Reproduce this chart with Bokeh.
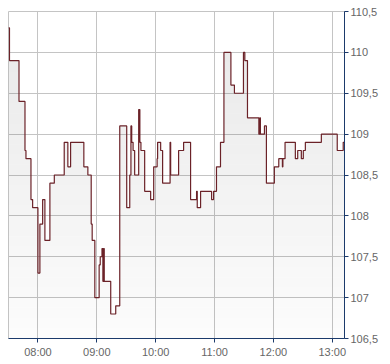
import numpy as np
from bokeh.plotting import figure
from bokeh.models import Range1d, FixedTicker, LinearAxis
from bokeh.embed import file_html
from bokeh.resources import INLINE

# minutes after midnight at which the price changes (step "after")
times = [450, 451, 460.7, 466.8, 467.8, 472.9, 474.6, 480, 482, 484.8, 487.1, 492.2,
         496.7, 506.8, 510.5, 513.3, 526.8, 530.9, 534.3, 535.3, 538, 542.4, 543.5,
         545.3, 546.2, 546.8, 547.6, 554.2, 559.3, 563.4, 570.5, 573.6, 574.8, 575.6,
         577, 578.6, 582.7, 583.9, 585, 588.8, 594.9, 598, 601.5, 602, 605.1, 607.1,
         614.7, 615.3, 623.4, 628.5, 635.6, 641.7, 642.4, 645.8, 657, 659, 662, 666.1,
         669.6, 676.7, 680.3, 689.5, 690.9, 693.6, 705.2, 706.2, 706.8, 710.9, 712.9,
         721, 725.5, 729.2, 729.7, 731.9, 742.4, 744.8, 748.5, 750.5, 752.6, 768.9,
         785.1, 791.2, 792.5]
prices = [110.3, 109.9, 109.4, 108.8, 108.7, 108.2, 108.1, 107.3, 107.9, 108.2, 107.7,
          108.4, 108.5, 108.9, 108.6, 108.9, 108.6, 108.5, 107.9, 107.7, 107.0, 107.4,
          107.5, 107.6, 107.2, 107.6, 107.2, 106.8, 106.9, 109.1, 108.1, 108.5, 109.1,
          108.9, 108.8, 108.5, 109.3, 108.9, 108.8, 108.3, 108.2, 108.6, 108.7, 108.9,
          108.8, 108.4, 108.9, 108.5, 108.8, 108.9, 108.2, 108.3, 108.1, 108.3, 108.2,
          108.3, 108.6, 108.9, 110.0, 109.6, 109.5, 110.0, 109.9, 109.2, 109.0, 109.2,
          109.0, 109.1, 108.4, 108.6, 108.7, 108.6, 108.7, 108.9, 108.7, 108.8, 108.7,
          108.8, 108.9, 109.0, 108.8, 108.9, 108.9]

x_ticks = [480, 540, 600, 660, 720, 780]
x_labels = ["08:00", "09:00", "10:00", "11:00", "12:00", "13:00"]
y_ticks = [106.5, 107.0, 107.5, 108.0, 108.5, 109.0, 109.5, 110.0, 110.5]
y_labels = ["106,5", "107", "107,5", "108", "108,5", "109", "109,5", "110", "110,5"]

X_MIN, X_MAX = 450, 792.5
Y_MIN, Y_MAX = 106.5, 110.5

AXIS = "#1b3a6b"
GRID = "#c4c4c4"
TEXT = "#666666"
LINE = "#6b2228"
FONT = "Liberation Sans"

p = figure(width=390, height=364, output_backend="svg", toolbar_location=None,
           x_range=Range1d(X_MIN, X_MAX), y_range=Range1d(Y_MIN, Y_MAX),
           x_axis_location="below", y_axis_location=None,
           min_border_left=8, min_border_right=46, min_border_top=11, min_border_bottom=26)
p.background_fill_color = "white"
p.border_fill_color = "white"
p.outline_line_color = GRID

# gradient fill: horizontal bands with alpha growing toward the top
t = np.array(times, dtype=float)
v = np.array(prices, dtype=float)
edges = np.linspace(Y_MIN, Y_MAX, 33)
for i in range(len(edges) - 1):
    lo, hi = edges[i], edges[i + 1]
    frac = (0.5 * (lo + hi) - Y_MIN) / (Y_MAX - Y_MIN)
    alpha = 0.012 + 0.08 * frac
    p.varea_step(x=t, y1=np.clip(v, lo, hi), y2=np.full_like(v, lo), step_mode="after",
                 fill_color="black", fill_alpha=alpha)

p.step(t, v, mode="after", line_color=LINE, line_width=1.2)

# x axis
xa = p.xaxis[0]
xa.ticker = FixedTicker(ticks=x_ticks)
xa.major_label_overrides = {tk: lb for tk, lb in zip(x_ticks, x_labels)}
xa.axis_line_color = AXIS
xa.major_tick_line_color = AXIS
xa.major_tick_out = 4
xa.major_tick_in = 0
xa.minor_tick_line_color = None
xa.major_label_text_font = FONT
xa.major_label_text_font_size = "11px"
xa.major_label_text_color = TEXT
xa.major_label_standoff = 3

# right y axis
ya = LinearAxis(ticker=FixedTicker(ticks=y_ticks))
ya.major_label_overrides = {tk: lb for tk, lb in zip(y_ticks, y_labels)}
ya.axis_line_color = AXIS
ya.major_tick_line_color = AXIS
ya.major_tick_out = 4
ya.major_tick_in = 0
ya.minor_tick_line_color = None
ya.major_label_text_font = FONT
ya.major_label_text_font_size = "11px"
ya.major_label_text_color = TEXT
ya.major_label_standoff = 2
p.add_layout(ya, "right")

p.xgrid.ticker = FixedTicker(ticks=x_ticks)
p.ygrid.ticker = FixedTicker(ticks=y_ticks)
p.grid.grid_line_color = GRID
p.grid.grid_line_width = 1

open("out.html", "w").write(file_html(p, INLINE))
